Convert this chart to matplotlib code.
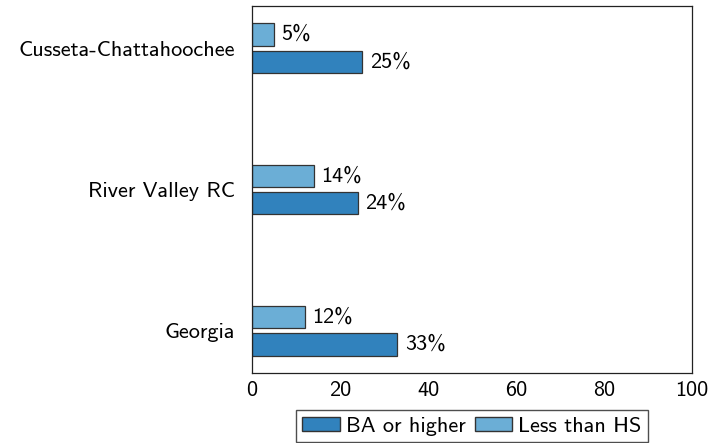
import numpy as np
import matplotlib.pyplot as plt
from matplotlib.patches import Patch

# data
places = ['Georgia', 'River Valley RC', 'Cusseta-Chattahoochee']
ba_higher = [33, 24, 25]
less_hs = [12, 14, 5]

plt.rcParams['font.family'] = ['cmss10', 'DejaVu Sans']
plt.rcParams['axes.unicode_minus'] = False

fig = plt.figure(figsize=(7.27, 4.43), dpi=100)
ax = fig.add_axes([252/727, 1-373/443, 440/727, 367/443])

y = np.arange(len(places))
h = 0.16
off = 0.097
dark = '#3182bd'
light = '#6baed6'
edge = '#333333'
ax.barh(y - off, ba_higher, height=h, color=dark, edgecolor=edge, linewidth=0.9)
ax.barh(y + off, less_hs, height=h, color=light, edgecolor=edge, linewidth=0.9)

for i in range(len(places)):
    ax.annotate('%d%%' % ba_higher[i], (ba_higher[i], y[i] - off), xytext=(5.5, 0),
                textcoords='offset points', va='center', ha='left', fontsize=16)
    ax.annotate('%d%%' % less_hs[i], (less_hs[i], y[i] + off), xytext=(5.5, 0),
                textcoords='offset points', va='center', ha='left', fontsize=16)

ax.set_xlim(0, 100)
ax.set_ylim(-0.3, 2.3)
ax.set_yticks(y)
ax.set_yticklabels(places, fontsize=16)
ax.set_xticks([0, 20, 40, 60, 80, 100])
ax.tick_params(axis='x', labelsize=16, length=0, pad=6)
ax.tick_params(axis='y', length=0, pad=12)
for s in ax.spines.values():
    s.set_color('#222222')
    s.set_linewidth(0.9)

handles = [Patch(facecolor=dark, edgecolor=edge, label='BA or higher'),
           Patch(facecolor=light, edgecolor=edge, label='Less than HS')]
fig.legend(handles=handles, loc='upper center', bbox_to_anchor=(472/727, 1-410/443), ncol=2,
           fontsize=16, frameon=True, fancybox=False, edgecolor='#222222',
           handlelength=1.7, handleheight=0.55, handletextpad=0.27, columnspacing=0.4,
           borderpad=0.3, borderaxespad=0)

fig.savefig('out.png', dpi=100)
